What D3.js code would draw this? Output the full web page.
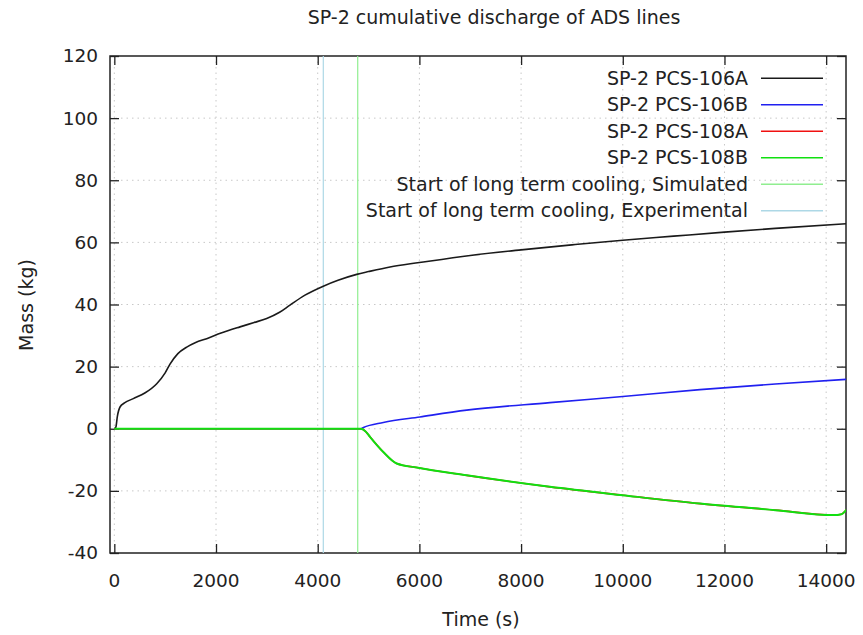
<!DOCTYPE html>
<html>
<head>
<meta charset="utf-8">
<script src="https://cdn.jsdelivr.net/npm/d3@7"></script>
<style>
    body { margin: 0; background: #fff; }
    text { font-family: "DejaVu Sans", sans-serif; fill: #222; }
</style>
</head>
<body>
<svg id="plot" width="863" height="635"></svg>
<script>
// time (s), mass (kg)
const pcs106A = [
    [0, 0], [30, 0.5], [60, 4], [112, 7], [200, 8.3], [374, 9.7], [600, 11.5],
    [834, 14.5], [1000, 18], [1095, 20.8], [1250, 24.2], [1424, 26.3], [1600, 27.8],
    [1817, 29], [2100, 30.8], [2472, 32.8], [2750, 34.2], [2997, 35.5], [3250, 37.5],
    [3455, 39.8], [3750, 43], [4110, 45.9], [4400, 47.8], [4767, 49.7], [5000, 50.6],
    [5422, 52.1], [6000, 53.5], [7000, 55.8], [8000, 57.6], [9000, 59.2], [10000, 60.7],
    [11000, 62], [12000, 63.3], [13000, 64.5], [14400, 66]
];
const pcs106B = [
    [0, 0], [4850, 0], [4900, 0.4], [5290, 2.0], [6010, 3.8], [6930, 6.0], [8568, 8.4],
    [10000, 10.4], [11518, 12.6], [13000, 14.4], [14400, 15.9]
];
const pcs108A = [
    [0, 0], [4850, 0], [4950, -1], [5028, -2.6], [5290, -7.5], [5553, -11.2], [5947, -12.5],
    [6930, -15], [8568, -18.7], [10000, -21.4], [11518, -24.1], [13000, -26.2],
    [14140, -27.8], [14300, -27.5], [14400, -26]
];
const pcs108B = pcs108A.map(d => d.slice());

const ltcSimulated = 4787;
const ltcExperimental = 4110;

const seriesNames = [
    "SP-2 PCS-106A", "SP-2 PCS-106B", "SP-2 PCS-108A", "SP-2 PCS-108B",
    "Start of long term cooling, Simulated", "Start of long term cooling, Experimental"
];
const seriesColors = ["#1a1a1a", "#2020f0", "#f01010", "#10e010", "#90ee90", "#add8e6"];

const xTicks = [0, 2000, 4000, 6000, 8000, 10000, 12000, 14000];
const yTicks = [-40, -20, 0, 20, 40, 60, 80, 100, 120];

const width = 863, height = 635;
const margin = { top: 56, right: 17, bottom: 82, left: 110 };
const innerWidth = width - margin.left - margin.right;
const innerHeight = height - margin.top - margin.bottom;

const plot = d3.select("#plot");

const xScale = d3.scaleLinear().domain([-85, 14390]).range([margin.left, width - margin.right]);
const yScale = d3.scaleLinear().domain([-40, 120]).range([height - margin.bottom, margin.top]);

plot.append("text")
    .attr("x", 494).attr("y", 17)
    .attr("dy", "0.35em")
    .attr("text-anchor", "middle")
    .attr("font-size", "19px")
    .text("SP-2 cumulative discharge of ADS lines");

plot.append("clipPath").attr("id", "clip")
    .append("rect")
    .attr("x", margin.left).attr("y", margin.top)
    .attr("width", innerWidth).attr("height", innerHeight);

// grid
plot.append("g")
    .selectAll("line")
    .data(xTicks)
    .join("line")
    .attr("x1", d => xScale(d)).attr("x2", d => xScale(d))
    .attr("y1", margin.top).attr("y2", height - margin.bottom)
    .attr("stroke", "#c8c8c8").attr("stroke-dasharray", "1.5,4");
plot.append("g")
    .selectAll("line")
    .data(yTicks.slice(1, -1))
    .join("line")
    .attr("y1", d => yScale(d)).attr("y2", d => yScale(d))
    .attr("x1", margin.left).attr("x2", width - margin.right)
    .attr("stroke", "#c8c8c8").attr("stroke-dasharray", "1.5,4");

// tick marks pointing inwards, mirrored on all four sides
const tickLen = 9;
const xAxisG = plot.append("g")
    .attr("transform", `translate(0,${height - margin.bottom})`)
    .call(d3.axisBottom(xScale).tickValues(xTicks).tickSizeInner(-tickLen).tickSizeOuter(0).tickFormat(""));
const yAxisG = plot.append("g")
    .attr("transform", `translate(${margin.left},0)`)
    .call(d3.axisLeft(yScale).tickValues(yTicks).tickSizeInner(-tickLen).tickSizeOuter(0).tickFormat(""));
const xTopG = plot.append("g")
    .attr("transform", `translate(0,${margin.top})`)
    .call(d3.axisTop(xScale).tickValues(xTicks).tickSizeInner(-tickLen).tickSizeOuter(0).tickFormat(""));
const yRightG = plot.append("g")
    .attr("transform", `translate(${width - margin.right},0)`)
    .call(d3.axisRight(yScale).tickValues(yTicks).tickSizeInner(-tickLen).tickSizeOuter(0).tickFormat(""));

[xAxisG, yAxisG, xTopG, yRightG].forEach(a => {
    a.select(".domain").remove();
    a.selectAll("text").remove();
    a.selectAll("line").attr("stroke", "#222").attr("stroke-width", 1.3);
});

// tick labels
plot.append("g")
    .selectAll("text")
    .data(xTicks)
    .join("text")
    .attr("x", d => xScale(d))
    .attr("y", height - margin.bottom + 28)
    .attr("dy", "0.35em")
    .attr("text-anchor", "middle")
    .attr("font-size", "18.5px")
    .text(d => String(d));
plot.append("g")
    .selectAll("text")
    .data(yTicks)
    .join("text")
    .attr("x", margin.left - 12)
    .attr("y", d => yScale(d))
    .attr("dy", "0.35em")
    .attr("text-anchor", "end")
    .attr("font-size", "18.5px")
    .text(d => String(d));

plot.append("rect")
    .attr("x", margin.left).attr("y", margin.top)
    .attr("width", innerWidth).attr("height", innerHeight)
    .attr("fill", "none").attr("stroke", "#222").attr("stroke-width", 1.5);

// vertical markers
const markers = plot.append("g").attr("clip-path", "url(#clip)");
markers.append("line")
    .attr("x1", xScale(ltcExperimental)).attr("x2", xScale(ltcExperimental))
    .attr("y1", margin.top).attr("y2", height - margin.bottom)
    .attr("stroke", seriesColors[5]).attr("stroke-width", 1.2);
markers.append("line")
    .attr("x1", xScale(ltcSimulated)).attr("x2", xScale(ltcSimulated))
    .attr("y1", margin.top).attr("y2", height - margin.bottom)
    .attr("stroke", seriesColors[4]).attr("stroke-width", 1.2);

// curves
const line = d3.line()
    .x(d => xScale(d[0]))
    .y(d => yScale(d[1]))
    .curve(d3.curveMonotoneX);

const curves = plot.append("g").attr("clip-path", "url(#clip)");
[pcs106A, pcs106B, pcs108A, pcs108B].forEach((s, i) => {
    curves.append("path")
        .datum(s)
        .attr("d", line)
        .attr("fill", "none")
        .attr("stroke", seriesColors[i])
        .attr("stroke-width", i === 3 ? 2 : 1.6);
});

// legend
const legendRows = plot.append("g")
    .selectAll("g")
    .data(seriesNames)
    .join("g")
    .attr("transform", (d, i) => `translate(0,${78.3 + i * 26.5})`);
legendRows.append("text")
    .attr("x", 748)
    .attr("dy", "0.35em")
    .attr("text-anchor", "end")
    .attr("font-size", "19px")
    .text(d => d);
legendRows.append("line")
    .attr("x1", 761).attr("x2", 823)
    .attr("stroke", (d, i) => seriesColors[i])
    .attr("stroke-width", 1.4);

// axis titles
plot.append("text")
    .attr("x", 481).attr("y", 619)
    .attr("dy", "0.35em")
    .attr("text-anchor", "middle")
    .attr("font-size", "19px")
    .text("Time (s)");
plot.append("text")
    .attr("transform", "translate(26,305) rotate(-90)")
    .attr("dy", "0.35em")
    .attr("text-anchor", "middle")
    .attr("font-size", "19px")
    .text("Mass (kg)");
</script>
</body>
</html>
